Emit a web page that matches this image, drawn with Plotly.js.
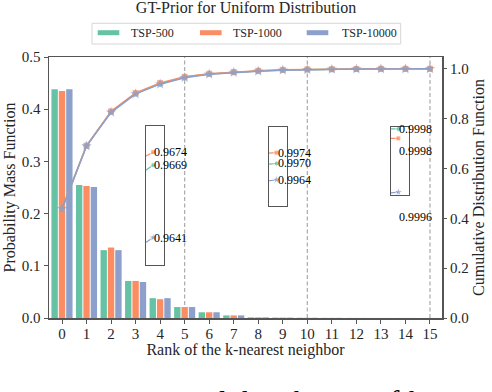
<!DOCTYPE html>
<html>
<head>
<meta charset="utf-8">
<script src="https://cdn.plot.ly/plotly-3.0.1.min.js"></script>
<style>
  html, body { margin: 0; padding: 0; background: #fff; }
  #chart { width: 492px; height: 392px; }
</style>
</head>
<body>
<div id="chart"></div>
<script>
// rank of the k-nearest neighbor (x axis)
const ranks = [0, 1, 2, 3, 4, 5, 6, 7, 8, 9, 10, 11, 12, 13, 14, 15];
const seriesNames = ['TSP-500', 'TSP-1000', 'TSP-10000'];

// probability mass function (bars, left axis)
const pmf500 = [0.438, 0.255, 0.130, 0.071, 0.038, 0.021, 0.011, 0.005, 0.0012, 0.0008, 0.0005, 0.0003, 0.0002, 0.0001, 0.0001, 0.0001];
const pmf1000 = [0.435, 0.253, 0.135, 0.071, 0.036, 0.021, 0.011, 0.005, 0.0012, 0.0008, 0.0005, 0.0003, 0.0002, 0.0001, 0.0001, 0.0001];
const pmf10000 = [0.438, 0.251, 0.130, 0.069, 0.038, 0.021, 0.011, 0.005, 0.0012, 0.0008, 0.0005, 0.0003, 0.0002, 0.0001, 0.0001, 0.0001];

// cumulative distribution function (lines, right axis)
const cdf500 = [0.438, 0.692, 0.826, 0.900, 0.940, 0.9669, 0.979, 0.986, 0.991, 0.995, 0.9970, 0.998, 0.9990, 0.9994, 0.9996, 0.9998];
const cdf1000 = [0.435, 0.691, 0.829, 0.903, 0.943, 0.9674, 0.980, 0.987, 0.992, 0.9955, 0.9974, 0.998, 0.9990, 0.9995, 0.9997, 0.9998];
const cdf10000 = [0.438, 0.690, 0.825, 0.899, 0.938, 0.9641, 0.978, 0.985, 0.990, 0.994, 0.9964, 0.9978, 0.9988, 0.9992, 0.9994, 0.9996];

// zoomed insets: rank shown, value at that rank, value where the line enters the box
const insetRanks = [5, 10, 15];
const insetVal500 = [0.9669, 0.9970, 0.99980];
const insetVal1000 = [0.9674, 0.9974, 0.99977];
const insetVal10000 = [0.9641, 0.9964, 0.99960];
const insetLead500 = [0.96670, 0.99698, 0.99980];
const insetLead1000 = [0.96725, 0.99738, 0.99977];
const insetLead10000 = [0.96391, 0.99636, 0.999598];
const insetYRange = [[0.96305, 0.9684], [0.99544, 0.99836], [0.999591, 0.999807]];

// vertical dashed guides
const guideRanks = [5, 10, 15];

// styles
const colors = ['#66c2a5', '#fc8d62', '#8da0cb'];
const symbols = ['circle', 'square', 'star'];
const markerSizes = [6, 6, 8];
const barOffsets = [-0.43, -0.13, 0.17];
const FONT = 'Liberation Serif';
const TXT = '#262626';
const AXC = '#555';

// plot area in pixels
const L = 49, R = 442, T = 57, B = 318;
const W = R - L, H = B - T;
function pxX(p) { return (p - L) / W; }
function pxY(p) { return (B - p) / H; }

const pmfs = [pmf500, pmf1000, pmf10000];
const cdfs = [cdf500, cdf1000, cdf10000];
const insetVals = [insetVal500, insetVal1000, insetVal10000];
const insetLeads = [insetLead500, insetLead1000, insetLead10000];

var data = [];

// bars
for (let i = 0; i < 3; i++) {
    data.push({
        x: ranks,
        y: pmfs[i],
        type: 'bar',
        width: 0.26,
        offset: barOffsets[i],
        marker: {color: colors[i], line: {width: 0}},
        showlegend: false,
        hoverinfo: 'skip'
    });
}

// cdf lines
for (let i = 0; i < 3; i++) {
    data.push({
        x: ranks,
        y: cdfs[i],
        yaxis: 'y2',
        type: 'scatter',
        mode: 'lines+markers',
        line: {color: colors[i], width: 1.5},
        marker: {symbol: symbols[i], size: markerSizes[i], color: colors[i], opacity: 0.7},
        showlegend: false,
        hoverinfo: 'skip'
    });
}

// inset boxes (pixel boxes)
const insetBoxes = [
    {x0: 145.7, x1: 163.7, y0: 126.3, y1: 264.7},
    {x0: 268.7, x1: 287.3, y0: 126.7, y1: 205.7},
    {x0: 390.7, x1: 409.0, y0: 126.7, y1: 195.0}
];
const labelShift = [[0, 0, 0], [0, 0, 0], [0, -13, -25]];

function axisFont(size) {
    return {family: FONT, size: size, color: TXT};
}

var layout = {
    width: 492,
    height: 392,
    margin: {l: L, r: 492 - R, t: T, b: 392 - B, pad: 0},
    paper_bgcolor: '#fff',
    plot_bgcolor: 'rgba(0,0,0,0)',
    font: axisFont(15),
    barmode: 'overlay',
    showlegend: false,
    title: {
        text: 'GT-Prior for Uniform Distribution',
        font: axisFont(16),
        x: 0.5, xanchor: 'center',
        y: 1 - 7 / 392, yanchor: 'middle', yref: 'container'
    },
    xaxis: {
        range: [-0.53, 15.49],
        tickvals: ranks,
        tickfont: axisFont(15),
        ticks: 'outside', ticklen: 4, tickcolor: AXC,
        ticklabelstandoff: -3,
        showline: true, mirror: true, linecolor: AXC, linewidth: 1.5,
        showgrid: false, zeroline: false,
        title: {text: 'Rank of the k-nearest neighbor', font: axisFont(16), standoff: 0}
    },
    yaxis: {
        range: [0, 0.5],
        dtick: 0.1, tickformat: '.1f',
        tickfont: axisFont(15),
        ticks: 'outside', ticklen: 4, tickcolor: AXC,
        showline: true, mirror: true, linecolor: AXC, linewidth: 1.5,
        showgrid: false, zeroline: false,
        title: {text: 'Probability Mass Function', font: axisFont(16), standoff: 2}
    },
    yaxis2: {
        overlaying: 'y', side: 'right',
        range: [0, 1.047],
        tickvals: [0, 0.2, 0.4, 0.6, 0.8, 1.0], tickformat: '.1f',
        tickfont: axisFont(15),
        ticks: 'outside', ticklen: 4, tickcolor: AXC,
        showline: false, showgrid: false, zeroline: false,
        title: {text: 'Cumulative Distribution Function', font: axisFont(16), standoff: 4}
    },
    shapes: [],
    annotations: []
};

// dashed guides
guideRanks.forEach(function(g) {
    layout.shapes.push({
        type: 'line', xref: 'x', yref: 'paper',
        x0: g, x1: g, y0: 0, y1: 1,
        line: {color: '#aaaaaa', width: 1.2, dash: '4px,2.5px'},
        layer: 'below'
    });
});

// insets
insetRanks.forEach(function(k, j) {
    var n = j + 3;
    var box = insetBoxes[j];
    layout['xaxis' + n] = {
        domain: [pxX(box.x0), pxX(box.x1)],
        anchor: 'y' + n,
        range: [k - 1, k + 1.38],
        showticklabels: false, ticks: '', showgrid: false, zeroline: false,
        showline: true, mirror: true, linecolor: AXC, linewidth: 1
    };
    layout['yaxis' + n] = {
        domain: [pxY(box.y1), pxY(box.y0)],
        anchor: 'x' + n,
        range: insetYRange[j],
        showticklabels: false, ticks: '', showgrid: false, zeroline: false,
        showline: true, mirror: true, linecolor: AXC, linewidth: 1
    };
    for (let i = 0; i < 3; i++) {
        data.push({
            x: [k - 1, k],
            y: [insetLeads[i][j], insetVals[i][j]],
            xaxis: 'x' + n, yaxis: 'y' + n,
            type: 'scatter', mode: 'lines+markers',
            line: {color: colors[i], width: 1.2},
            marker: {symbol: symbols[i], size: [0, markerSizes[i] - 1], color: colors[i], opacity: 0.75},
            cliponaxis: true,
            showlegend: false, hoverinfo: 'skip'
        });
        layout.annotations.push({
            xref: 'x' + n, yref: 'y' + n,
            x: k, y: insetVals[i][j],
            text: insetVals[i][j].toFixed(4),
            showarrow: false, xanchor: 'left', yanchor: 'middle',
            xshift: -1, yshift: labelShift[j][i],
            font: {family: FONT, size: 12, color: '#000'}
        });
    }
});

// legend drawn by hand (wide matplotlib-style swatches)
layout.shapes.push({
    type: 'rect', xref: 'paper', yref: 'paper',
    x0: pxX(92), x1: pxX(400.7), y0: pxY(44), y1: pxY(23.3),
    line: {color: '#d6d6d6', width: 1}, fillcolor: '#fff'
});
const swatchX = [97.7, 200, 306.7];
const labelX = [130, 232, 340.7];
seriesNames.forEach(function(name, i) {
    layout.shapes.push({
        type: 'rect', xref: 'paper', yref: 'paper',
        x0: pxX(swatchX[i]), x1: pxX(swatchX[i] + 21.6),
        y0: pxY(35.2), y1: pxY(30.2),
        line: {width: 0}, fillcolor: colors[i]
    });
    layout.annotations.push({
        xref: 'paper', yref: 'paper',
        x: pxX(labelX[i] - 1), y: pxY(33),
        text: name, showarrow: false,
        xanchor: 'left', yanchor: 'middle',
        font: {family: FONT, size: 12, color: TXT}
    });
});

// figure caption, cut by the page edge
layout.annotations.push({
    xref: 'paper', yref: 'paper',
    x: pxX(-2), y: pxY(383),
    text: 'Figure 3: Empirical distribution of <i>k</i>-nearest',
    showarrow: false, xanchor: 'left', yanchor: 'top',
    font: {family: FONT, size: 29, color: '#000'}
});

Plotly.newPlot('chart', data, layout, {displayModeBar: false, staticPlot: true});
</script>
</body>
</html>
